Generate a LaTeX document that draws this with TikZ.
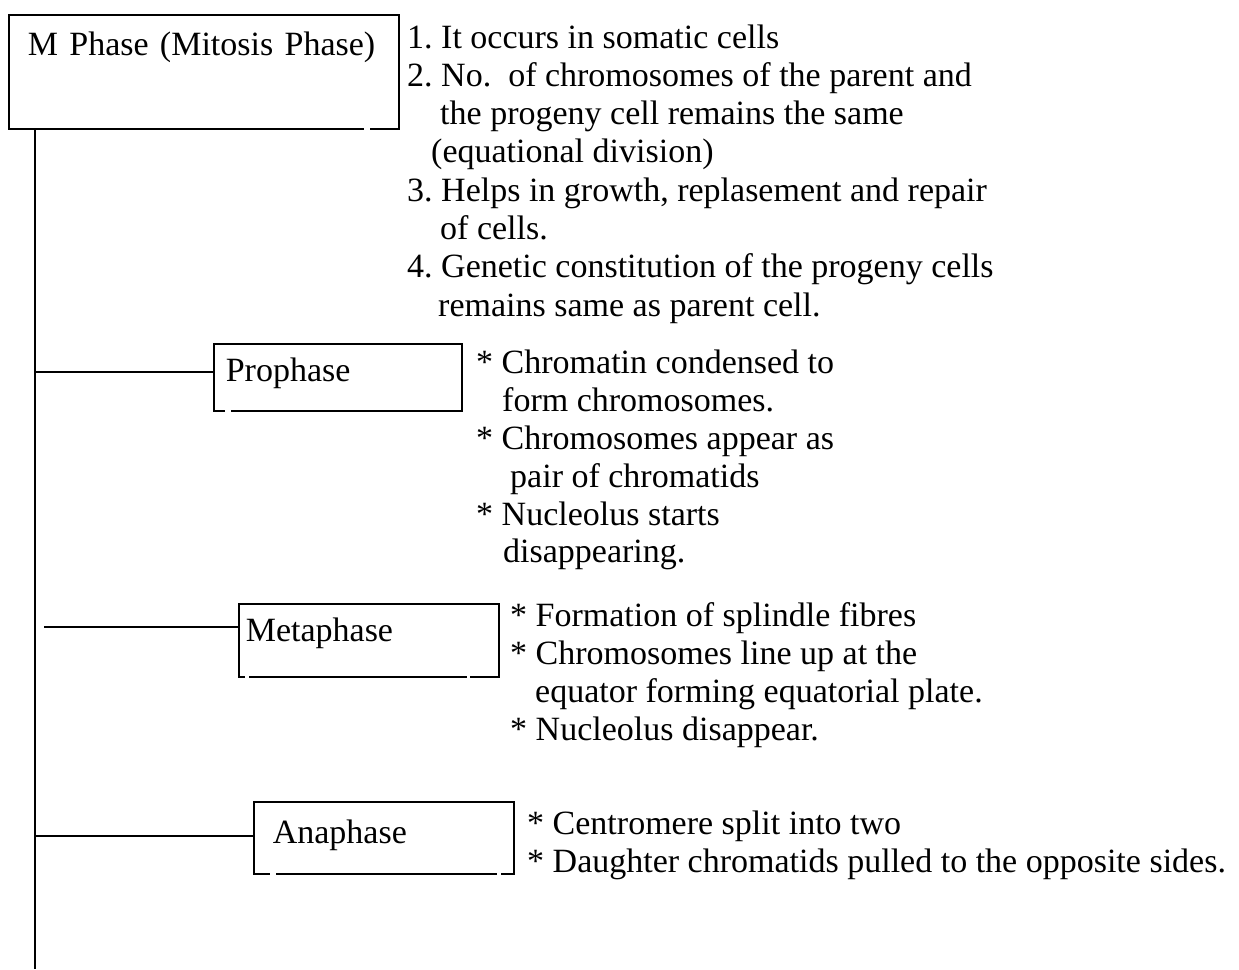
\documentclass[tikz,border=0pt]{standalone}
\usepackage{fontspec}
\setmainfont{Liberation Serif}
\newcommand\bigfs{\fontsize{34pt}{38pt}\selectfont\frenchspacing}
\begin{document}
\begin{tikzpicture}[x=1pt,y=-1pt,
  box/.style={draw, line width=1.6pt, inner ysep=0pt, anchor=north west, align=left, font=\bigfs},
  ln/.style={anchor=base west, inner sep=0pt, font=\bigfs},
  wire/.style={line width=1.6pt},
  gap/.style={draw=white, line width=3pt}]
\fill[white] (0,0) rectangle (1239,969);
\useasboundingbox (0,0) rectangle (1239,969);

% boxes
\node[box, inner xsep=19pt, text width=352pt, text height=41pt, text depth=73pt] (mp) at (8,14) {M Phase (Mitosis Phase)};
\node[box, inner xsep=12pt, text width=224pt, text height=38pt, text depth=29pt] (pro) at (213,343) {Prophase};
\node[box, inner xsep=7pt, text width=246pt, text height=38pt, text depth=35pt] (met) at (238,603) {Metaphase};
\node[box, inner xsep=19pt, text width=222pt, text height=42pt, text depth=30pt] (ana) at (253,801) {Anaphase};

% small breaks in the bottom edges of the boxes
\draw[gap] ([xshift=356pt]mp.south west) -- ++(6,0);
\draw[gap] ([xshift=12pt]pro.south west) -- ++(6,0);
\draw[gap] ([xshift=7pt]met.south west) -- ++(4,0);
\draw[gap] ([xshift=229pt]met.south west) -- ++(3,0);
\draw[gap] ([xshift=17pt]ana.south west) -- ++(6,0);
\draw[gap] ([xshift=244pt]ana.south west) -- ++(4,0);

% connectors
\coordinate (vb) at (35,969);
\draw[wire] (mp.south west -| vb) -- (vb);
\coordinate (j1) at (35,372);
\draw[wire] (j1) -- (j1 -| pro.west);
\coordinate (j2) at (44,627);
\draw[wire] (j2) -- (j2 -| met.west);
\coordinate (j3) at (35,836);
\draw[wire] (j3) -- (j3 -| ana.west);

% M phase notes
\node[ln] (l1) at (407,48)    {1. It occurs in somatic cells};
\node[ln] (l2) at (407,86.3)  {2. No.~ of chromosomes of the parent and};
\node[ln] (l3) at (440,124.6) {the progeny cell remains the same};
\node[ln] (l4) at (431,162.9) {(equational division)};
\node[ln] (l5) at (407,201.2) {3. Helps in growth, replasement and repair};
\node[ln] (l6) at (440,239.5) {of cells.};
\node[ln] (l7) at (407,277.8) {4. Genetic constitution of the progeny cells};
\node[ln] (l8) at (438,316.1) {remains same as parent cell.};

% prophase notes
\node[ln] (p1) at (476,373) {* Chromatin condensed to};
\node[ln] (p2) at (502,411) {form chromosomes.};
\node[ln] (p3) at (476,449) {* Chromosomes appear as};
\node[ln] (p4) at (510,487) {pair of chromatids};
\node[ln] (p5) at (476,525) {* Nucleolus starts};
\node[ln] (p6) at (503,562) {disappearing.};

% metaphase notes
\node[ln] (m1) at (510,626) {* Formation of splindle fibres};
\node[ln] (m2) at (510,664) {* Chromosomes line up at the};
\node[ln] (m3) at (535,702) {equator forming equatorial plate.};
\node[ln] (m4) at (510,740) {* Nucleolus disappear.};

% anaphase notes
\node[ln] (a1) at (527,834) {* Centromere split into two};
\node[ln] (a2) at (527,872) {* Daughter chromatids pulled to the opposite sides.};
\end{tikzpicture}
\end{document}
